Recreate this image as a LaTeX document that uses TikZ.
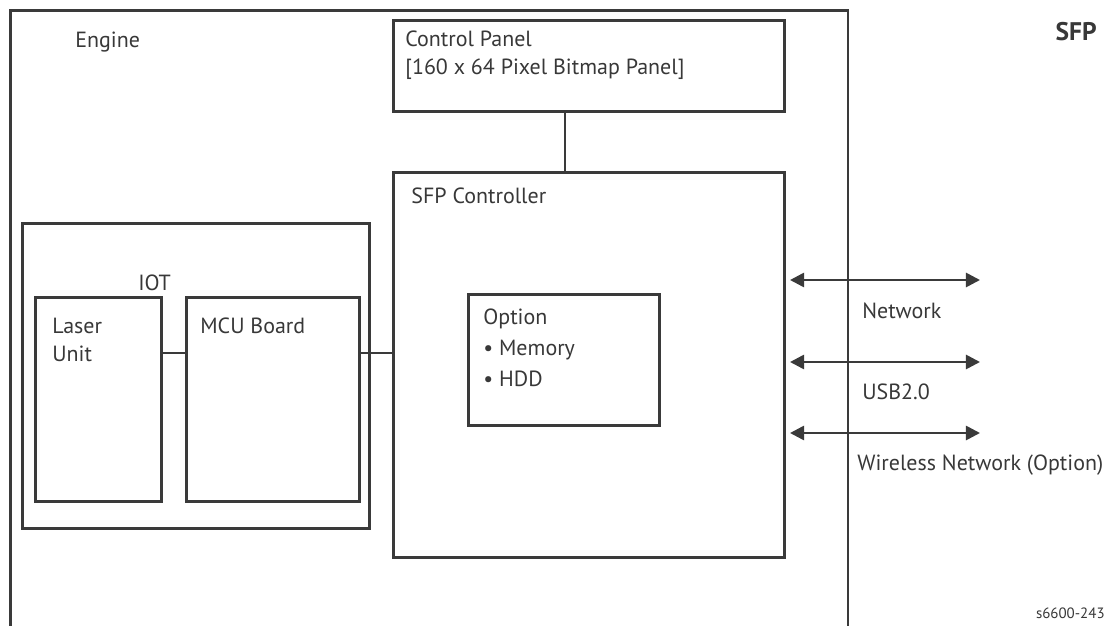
\documentclass[tikz,border=0pt]{standalone}
\usepackage{fontspec}
\setmainfont{PT Sans}
\usetikzlibrary{arrows.meta,positioning}
\definecolor{lineGrey}{HTML}{3A3A3A}
\definecolor{textGrey}{HTML}{383838}

\begin{document}
\begin{tikzpicture}[x=0.02cm,y=-0.02cm,
    box/.style={draw=lineGrey,line width=1.5pt,anchor=north west,inner sep=0pt},
    lbl/.style={text=textGrey,font=\fontsize{12.5}{15.5}\selectfont,inner sep=0pt,align=left},
    link/.style={draw=lineGrey,line width=1.5pt},
    port/.style={{Triangle[length=8pt,width=8pt]}-{Triangle[length=8pt,width=8pt]},draw=lineGrey,line width=1.5pt}]
    \useasboundingbox (0,0) rectangle (1111,625);
    \clip (0,0) rectangle (1111,625);
    % boxes
    \node[box,minimum width=16.76cm,minimum height=13.8cm] (engine) at (9,9) {};
    \node[box,minimum width=7.82cm,minimum height=1.82cm] (panel) at (392,19) {};
    \node[box,minimum width=7.82cm,minimum height=7.70cm] (sfpctl) at (392,171) {};
    \node[box,minimum width=3.82cm,minimum height=2.62cm] (option) at (467,293) {};
    \node[box,minimum width=6.94cm,minimum height=6.10cm] (iot) at (21,222) {};
    \node[box,minimum width=2.52cm,minimum height=4.08cm] (laser) at (34,296) {};
    \node[box,minimum width=3.46cm,minimum height=4.08cm] (mcu) at (185,296) {};
    % labels
    \node[lbl,below right=0.46cm and 1.32cm of engine.north west] (engineLbl) {Engine};
    \node[lbl,below right=0.24cm and 0.26cm of panel.north west] (panelLbl) {Control Panel\\{}[160 x 64 Pixel Bitmap Panel]};
    \node[lbl,below right=0.34cm and 0.38cm of sfpctl.north west] (sfpctlLbl) {SFP Controller};
    \node[lbl,font=\fontsize{12.5}{17.5}\selectfont,below right=0.32cm and 0.32cm of option.north west] (optionLbl) {Option\\• Memory\\• HDD};
    \node[lbl,below right=1.06cm and 2.34cm of iot.north west] (iotLbl) {IOT};
    \node[lbl,font=\fontsize{12.5}{15.8}\selectfont,below right=0.44cm and 0.36cm of laser.north west] (laserLbl) {Laser\\Unit};
    \node[lbl,below right=0.44cm and 0.30cm of mcu.north west] (mcuLbl) {MCU Board};
    \node[lbl,font=\fontsize{14.5}{16}\selectfont\bfseries,anchor=north east] (title) at (1097,22) {SFP};
    \node[lbl,font=\fontsize{8.5}{10}\selectfont,anchor=base east] (figId) at (1105,618) {s6600-243};
    % internal links
    \coordinate (bus) at (0,353);
    \coordinate (panelTap) at (565,0);
    \draw[link] (laser.east |- bus) -- (mcu.west |- bus);
    \draw[link] (mcu.east |- bus) -- (sfpctl.west |- bus);
    \draw[link] (panel.south -| panelTap) -- (sfpctl.north -| panelTap);
    % external ports
    \coordinate (netL) at (790,280);  \coordinate (netR) at (980,280);
    \coordinate (usbL) at (790,362);  \coordinate (usbR) at (980,362);
    \coordinate (wlanL) at (790,433); \coordinate (wlanR) at (980,433);
    \draw[port] (netL) -- (netR);
    \draw[port] (usbL) -- (usbR);
    \draw[port] (wlanL) -- (wlanR);
    \node[lbl,below right=0.46cm and 1.44cm of netL] (netLbl) {Network};
    \node[lbl,below right=0.44cm and 1.44cm of usbL] (usbLbl) {USB2.0};
    \node[lbl,below right=0.44cm and 1.34cm of wlanL] (wlanLbl) {Wireless Network (Option)};
\end{tikzpicture}
\end{document}
